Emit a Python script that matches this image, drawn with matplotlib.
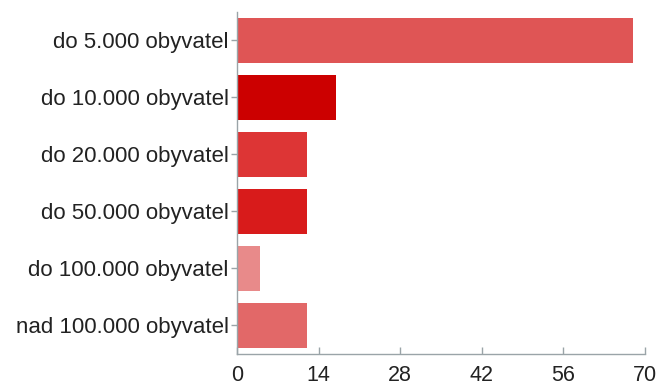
import matplotlib
matplotlib.use("Agg")
import matplotlib.pyplot as plt

categories = ["do 5.000 obyvatel", "do 10.000 obyvatel", "do 20.000 obyvatel",
              "do 50.000 obyvatel", "do 100.000 obyvatel", "nad 100.000 obyvatel"]
values = [68, 17, 12, 12, 4, 12]
colors = ["#df5555", "#cc0000", "#dd3535", "#d81b1b", "#e88a8a", "#e26868"]
xticks = [0, 14, 28, 42, 56, 70]

plt.rcParams['font.family'] = ['Liberation Sans', 'DejaVu Sans']

fig = plt.figure(figsize=(6.59, 3.86), dpi=100)
ax = fig.add_axes([0.3596, 0.0829, 0.6192, 0.8861])

pos = list(range(len(categories)))
ax.barh(pos, values, height=0.79, color=colors)
ax.set_ylim(len(categories) - 0.5, -0.5)
ax.set_xlim(0, 70)
ax.set_yticks(pos)
ax.set_yticklabels(categories, fontsize=16, color="#222222")
ax.set_xticks(xticks)
ax.set_xticklabels([str(t) for t in xticks], fontsize=15.5, color="#222222")

for s in ["top", "right"]:
    ax.spines[s].set_visible(False)
for s in ["left", "bottom"]:
    ax.spines[s].set_color("#9aa4a8")
    ax.spines[s].set_linewidth(1)
ax.tick_params(axis="y", length=4, width=1, color="#9aa4a8", pad=2)
ax.tick_params(axis="x", direction="in", length=5, width=1, color="#9aa4a8", pad=8)

plt.savefig("out.png", dpi=100)
